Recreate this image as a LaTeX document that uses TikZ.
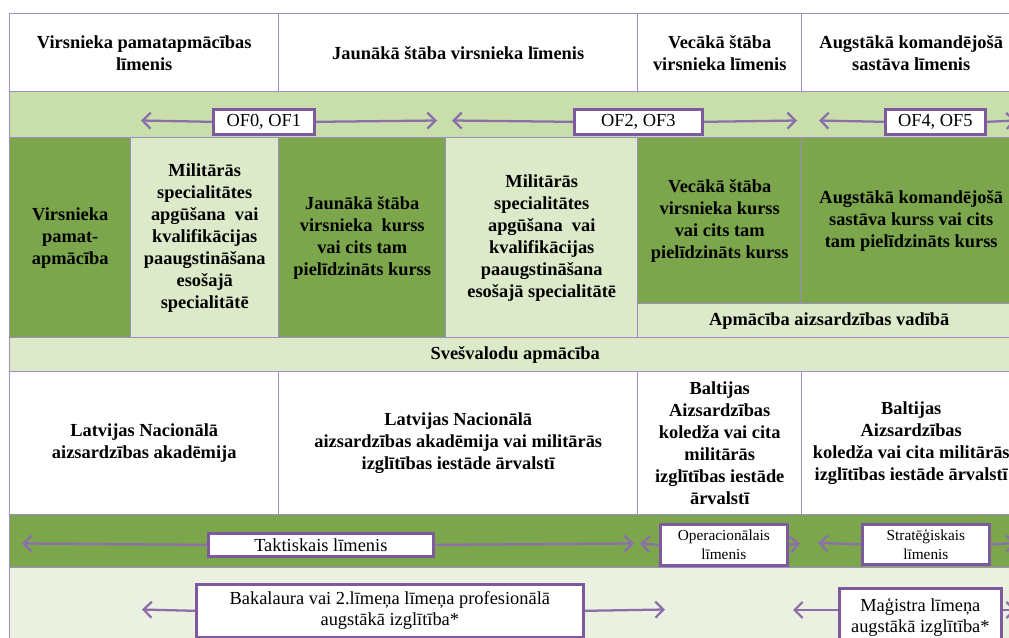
\documentclass[tikz,border=0pt]{standalone}
\usepackage{fontspec}
\setmainfont{Liberation Serif}
\usetikzlibrary{arrows.meta}
\definecolor{dkg}{HTML}{7BA64B}
\definecolor{mdg}{HTML}{C8DFAC}
\definecolor{ltg}{HTML}{DDEAC9}
\definecolor{vlg}{HTML}{EBF1E0}
\definecolor{tl}{HTML}{A08CC4}
\definecolor{boxc}{HTML}{7D5A9B}
\definecolor{arrc}{HTML}{8C6EAA}
\newcommand\mkcell[7]{\node[#6, anchor=north west, minimum width={(#4-#2)*0.75pt}, minimum height={(#5-#3)*0.75pt}] (#1) at (#2,#3) {#7};}
\tikzset{
  cell/.style={draw=tl, line width=1.1pt, inner sep=0pt, align=center, font=\bfseries\fontsize{13.8}{16.5}\selectfont},
  lbl/.style={draw=boxc, line width=2pt, fill=white, inner sep=0pt, align=center, font=\fontsize{13.8}{15.5}\selectfont},
  slbl/.style={lbl, font=\fontsize{11.5}{14}\selectfont},
  arr/.style={draw=arrc, line width=1.7pt, -{Straight Barb[length=6pt,width=12pt]}}
}
\begin{document}
\begin{tikzpicture}[x=0.75pt,y=-0.75pt]
\clip (0,0) rectangle (1009,638);
\fill[white] (0,0) rectangle (1009,638);
% row 1
\mkcell{h1}{9}{13}{278}{91}{cell,fill=white}{Virsnieka pamatapmācības\\līmenis}
\mkcell{h2}{278}{13}{637}{91}{cell,fill=white}{Jaunākā štāba virsnieka līmenis}
\mkcell{h3}{637}{13}{801}{91}{cell,fill=white}{Vecākā štāba\\virsnieka līmenis}
\mkcell{h4}{801}{13}{1020}{91}{cell,fill=white}{Augstākā komandējošā\\sastāva līmenis}
% row 2
\mkcell{of}{9}{91}{1020}{137}{cell,fill=mdg}{}
% row 3
\mkcell{c1}{9}{137}{130}{337}{cell,fill=dkg}{Virsnieka\\pamat-\\apmācība}
\mkcell{c2}{130}{137}{278}{337}{cell,fill=ltg}{Militārās\\specialitātes\\apgūšana \ vai\\kvalifikācijas\\paaugstināšana\\esošajā\\specialitātē}
\mkcell{c3}{278}{137}{445}{337}{cell,fill=dkg}{Jaunākā štāba\\virsnieka \ kurss\\vai cits tam\\pielīdzināts kurss}
\mkcell{c4}{445}{137}{637}{337}{cell,fill=ltg}{Militārās\\specialitātes\\apgūšana \ vai\\kvalifikācijas\\paaugstināšana\\esošajā specialitātē}
\mkcell{c5}{637}{137}{801}{303}{cell,fill=dkg}{Vecākā štāba\\virsnieka kurss\\vai cits tam\\pielīdzināts kurss}
\mkcell{c6}{801}{137}{1020}{303}{cell,fill=dkg}{Augstākā komandējošā\\sastāva kurss vai cits\\tam pielīdzināts kurss}
\mkcell{c7}{637}{303}{1020}{337}{cell,fill=ltg}{Apmācība aizsardzības vadībā}
% row 4
\mkcell{sv}{9}{337}{1020}{371}{cell,fill=ltg}{Svešvalodu apmācība}
% row 5
\mkcell{e1}{9}{371}{278}{514}{cell,fill=white}{Latvijas Nacionālā\\aizsardzības akadēmija}
\mkcell{e2}{278}{371}{637}{514}{cell,fill=white}{Latvijas Nacionālā\\aizsardzības akadēmija vai militārās\\izglītības iestāde ārvalstī}
\mkcell{e3}{637}{371}{801}{514}{cell,fill=white}{Baltijas\\Aizsardzības\\koledža vai cita\\militārās\\izglītības iestāde\\ārvalstī}
\mkcell{e4}{801}{371}{1020}{514}{cell,fill=white}{Baltijas\\Aizsardzības\\koledža vai cita militārās\\izglītības iestāde ārvalstī}
% row 6 and 7
\mkcell{lv}{9}{514}{1020}{567}{cell,fill=dkg}{}
\mkcell{ed}{9}{567}{1020}{660}{cell,fill=vlg}{}
% label boxes
\mkcell{of01}{212}{108}{313}{133}{lbl}{OF0, OF1}
\mkcell{of23}{573}{108}{701}{133}{lbl}{OF2, OF3}
\mkcell{of45}{884}{108}{984}{133}{lbl}{OF4, OF5}
\mkcell{takt}{207}{532}{432}{555}{lbl}{Taktiskais līmenis}
\mkcell{oper}{659}{523}{786}{564}{slbl}{Operacionālais\\līmenis}
\mkcell{strat}{861}{523}{988}{563}{slbl}{Stratēģiskais\\līmenis}
\mkcell{bak}{195}{583}{582}{636}{lbl}{Bakalaura vai 2.līmeņa līmeņa profesionālā\\augstākā izglītība*}
\mkcell{mag}{838}{587}{1000}{645}{lbl}{Maģistra līmeņa\\augstākā izglītība*}
% arrow end points
\coordinate (a1l) at (141,120.5);
\coordinate (a1r) at (437,120.5);
\coordinate (a2l) at (452,120.5);
\coordinate (a2r) at (797,120.5);
\coordinate (a3l) at (819,120.5);
\coordinate (a3r) at (1016,120.5);
\coordinate (t1l) at (22,543.5);
\coordinate (t1r) at (634,543.5);
\coordinate (t2l) at (640,543.5);
\coordinate (t2r) at (800,543.5);
\coordinate (t3l) at (818,543);
\coordinate (t3r) at (1016,543);
\coordinate (b1l) at (142,609.5);
\coordinate (b1r) at (665,609.5);
\coordinate (b2l) at (793,610);
\coordinate (b2r) at (1016,610);
% arrows
\draw[arr] (of01.west) -- (a1l);
\draw[arr] (of01.east) -- (a1r);
\draw[arr] (of23.west) -- (a2l);
\draw[arr] (of23.east) -- (a2r);
\draw[arr] (of45.west) -- (a3l);
\draw[arr] (of45.east) -- (a3r);
\draw[arr] (takt.west) -- (t1l);
\draw[arr] (takt.east) -- (t1r);
\draw[arr] (oper.west) -- (t2l);
\draw[arr] (oper.east) -- (t2r);
\draw[arr] (strat.west) -- (t3l);
\draw[arr] (strat.east) -- (t3r);
\draw[arr] (bak.west) -- (b1l);
\draw[arr] (bak.east) -- (b1r);
\draw[arr] (mag.west |- b2l) -- (b2l);
\draw[arr] (mag.east |- b2r) -- (b2r);
\end{tikzpicture}
\end{document}
